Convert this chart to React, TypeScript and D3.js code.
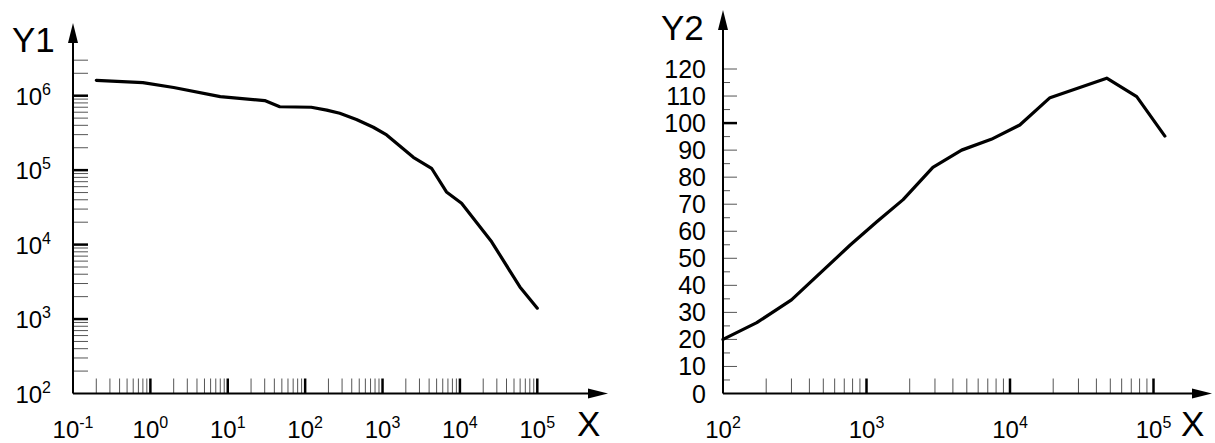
import React from "react";
import * as d3 from "d3";

// Left panel: Y1 against X, both logarithmic
const x1Values = [0.2, 0.8, 2, 8, 30, 47, 120, 190, 280, 460, 760, 1130, 2500, 4300, 6700, 10500, 25700, 59600, 100000];
const y1Values = [1.61e6, 1.5e6, 1.29e6, 9.7e5, 8.6e5, 7.1e5, 7.0e5, 6.4e5, 5.8e5, 4.8e5, 3.77e5, 2.97e5, 1.49e5, 1.06e5, 5.1e4, 3.6e4, 1.09e4, 2.7e3, 1.4e3];

// Right panel: Y2 (linear) against X (logarithmic)
const x2Values = [100, 172, 300, 770, 1180, 1800, 2900, 4600, 7400, 11700, 19000, 47200, 76400, 120000];
const y2Values = [20, 26.2, 34.6, 54.9, 63.5, 71.7, 83.6, 90, 94, 99.3, 109.4, 116.6, 109.8, 95.2];

const x1Exponents = [-1, 0, 1, 2, 3, 4, 5];
const y1Exponents = [2, 3, 4, 5, 6];
const x2Exponents = [2, 3, 4, 5];
const y2TickLabels = [0, 10, 20, 30, 40, 50, 60, 70, 80, 90, 100, 110, 120];

const FONT = "'Liberation Sans', Arial, Helvetica, sans-serif";

function minorLogTicks(lo: number, hi: number, extra: number[] = []) {
  const out: number[] = [];
  for (let e = lo; e < hi; e++) {
    for (let m = 2; m <= 9; m++) out.push(m * Math.pow(10, e));
  }
  return out.concat(extra);
}

function Pow({ x, y, exp, anchor }: { x: number; y: number; exp: number; anchor: "middle" | "end" }) {
  return (
    <text x={x} y={y} textAnchor={anchor} fontFamily={FONT} fontSize={24} fill="#000">
      <tspan>10</tspan>
      <tspan dy={-10} fontSize={16}>{String(exp)}</tspan>
    </text>
  );
}

function Arrow({ x, y, dir }: { x: number; y: number; dir: "up" | "right" }) {
  const L = 20, W = 5;
  const d = dir === "up"
    ? `M${x},${y} L${x - W},${y + L} L${x + W},${y + L} Z`
    : `M${x},${y} L${x - L},${y - W} L${x - L},${y + W} Z`;
  return <path d={d} fill="#000" />;
}

export default function App() {
  // ---- left panel scales
  const x1 = d3.scaleLog().domain([0.1, 1e5]).range([73, 537.3]);
  const y1 = d3.scaleLog().domain([1e2, 1e6]).range([393.5, 95.7]);
  const line1 = d3.line<number>()
    .x((_, i) => x1(x1Values[i]))
    .y((v) => y1(v));

  // ---- right panel scales
  const x2 = d3.scaleLog().domain([1e2, 1e5]).range([723, 1153.5]);
  const y2 = d3.scaleLinear().domain([0, 120]).range([393.5, 69]);
  const line2 = d3.line<number>()
    .x((_, i) => x2(x2Values[i]))
    .y((v) => y2(v));

  const base1 = y1(1e2);
  const left1 = x1(0.1);
  const base2 = y2(0);
  const left2 = x2(1e2);

  const x1Minor = minorLogTicks(-1, 5);
  const y1Minor = minorLogTicks(2, 6, [2e6, 3e6]);
  const x2Minor = minorLogTicks(2, 5);
  const y2Minor = d3.range(5, 120, 10);

  return (
    <svg width={1215} height={443} style={{ position: "absolute", left: 0, top: 0, background: "#fff" }}>
      <rect width={1215} height={443} fill="#fff" />

      {/* ===== Left panel ===== */}
      <g>
        {x1Minor.map((v) => (
          <line key={"x1m" + v} x1={x1(v)} x2={x1(v)} y1={base1} y2={base1 - 15} stroke="#555" strokeWidth={1} />
        ))}
        {x1Exponents.slice(1).map((e) => (
          <line key={"x1M" + e} x1={x1(10 ** e)} x2={x1(10 ** e)} y1={base1} y2={base1 - 15} stroke="#000" strokeWidth={2.5} />
        ))}
        {y1Minor.map((v) => (
          <line key={"y1m" + v} x1={left1} x2={left1 + 15} y1={y1(v)} y2={y1(v)} stroke="#555" strokeWidth={1} />
        ))}
        {y1Exponents.slice(1).map((e) => (
          <line key={"y1M" + e} x1={left1} x2={left1 + 15} y1={y1(10 ** e)} y2={y1(10 ** e)} stroke="#000" strokeWidth={2.5} />
        ))}

        <line x1={left1} x2={left1} y1={base1} y2={40} stroke="#000" strokeWidth={2} />
        <line x1={left1} x2={592} y1={base1} y2={base1} stroke="#000" strokeWidth={2} />
        <Arrow x={left1} y={23} dir="up" />
        <Arrow x={608} y={base1} dir="right" />

        {x1Exponents.map((e) => (
          <Pow key={"x1l" + e} x={x1(10 ** e)} y={438} exp={e} anchor="middle" />
        ))}
        {y1Exponents.map((e) => (
          <Pow key={"y1l" + e} x={51} y={y1(10 ** e) + 9} exp={e} anchor="end" />
        ))}

        <text x={12} y={52} fontFamily={FONT} fontSize={35}>Y1</text>
        <text x={577} y={436} fontFamily={FONT} fontSize={35}>X</text>

        <path d={line1(y1Values) || ""} fill="none" stroke="#000" strokeWidth={3.2} strokeLinejoin="round" strokeLinecap="round" />
      </g>

      {/* ===== Right panel ===== */}
      <g>
        {x2Minor.map((v) => (
          <line key={"x2m" + v} x1={x2(v)} x2={x2(v)} y1={base2} y2={base2 - 15} stroke="#555" strokeWidth={1} />
        ))}
        {x2Exponents.slice(1).map((e) => (
          <line key={"x2M" + e} x1={x2(10 ** e)} x2={x2(10 ** e)} y1={base2} y2={base2 - 15} stroke="#000" strokeWidth={2.5} />
        ))}
        {y2Minor.map((v) => (
          <line key={"y2m" + v} x1={left2} x2={left2 + 7} y1={y2(v)} y2={y2(v)} stroke="#555" strokeWidth={1} />
        ))}
        {y2TickLabels.slice(1).map((v) => (
          <line key={"y2M" + v} x1={left2} x2={left2 + 14} y1={y2(v)} y2={y2(v)}
            stroke={v === 100 ? "#000" : "#555"} strokeWidth={v === 100 ? 2.5 : 1} />
        ))}

        <line x1={left2} x2={left2} y1={base2} y2={27} stroke="#000" strokeWidth={2} />
        <line x1={left2} x2={1196} y1={base2} y2={base2} stroke="#000" strokeWidth={2} />
        <Arrow x={left2} y={10} dir="up" />
        <Arrow x={1212} y={base2} dir="right" />

        {x2Exponents.map((e) => (
          <Pow key={"x2l" + e} x={x2(10 ** e)} y={438} exp={e} anchor="middle" />
        ))}
        {y2TickLabels.map((v) => (
          <text key={"y2l" + v} x={706} y={y2(v) + 9} textAnchor="end" fontFamily={FONT} fontSize={25}>{v}</text>
        ))}

        <text x={661} y={40} fontFamily={FONT} fontSize={35}>Y2</text>
        <text x={1181} y={436} fontFamily={FONT} fontSize={35}>X</text>

        <path d={line2(y2Values) || ""} fill="none" stroke="#000" strokeWidth={3.2} strokeLinejoin="round" strokeLinecap="round" />
      </g>
    </svg>
  );
}
